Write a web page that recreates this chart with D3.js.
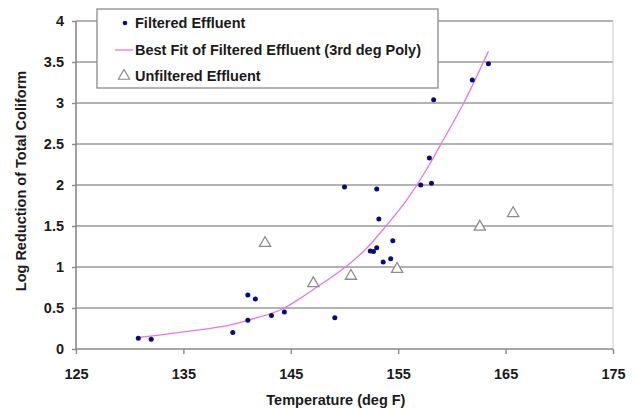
<!DOCTYPE html>
<html>
<head>
<meta charset="utf-8">
<script src="https://cdn.jsdelivr.net/npm/d3@7"></script>
<style>
  body { margin: 0; background: #fff; }
  svg text { font-family: "Liberation Sans", Arial, sans-serif; font-weight: bold; fill: #1a1a1a; }
</style>
</head>
<body>
<svg class="chart" width="636" height="409"></svg>
<script>
// Log reduction of total coliform vs temperature

// Filtered effluent (temperature, log reduction)
var filteredTemp = [130.8, 132.0, 139.6, 141.0, 141.7, 141.0, 143.2, 144.4, 149.1, 150.0,
                    152.4, 152.7, 153.0, 153.0, 153.2, 153.6, 154.3, 154.5, 157.1, 158.1,
                    157.9, 158.3, 161.9, 163.4];
var filteredLog  = [0.13, 0.12, 0.20, 0.66, 0.61, 0.35, 0.41, 0.45, 0.38, 1.975,
                    1.195, 1.19, 1.235, 1.95, 1.585, 1.06, 1.10, 1.32, 2.0, 2.02,
                    2.33, 3.04, 3.28, 3.48];

// Best fit line (3rd deg poly)
var fitTemp = [130.8, 135, 139.6, 141, 144.4, 145.9, 147.7, 150.0, 152.0, 153.8, 155.8, 157.6, 158.9, 161.1, 163.4];
var fitLog  = [0.14, 0.21, 0.30, 0.35, 0.50, 0.62, 0.78, 0.99, 1.22, 1.49, 1.82, 2.18, 2.48, 3.0, 3.63];

// Unfiltered effluent
var unfilteredTemp = [142.6, 147.1, 150.6, 154.9, 162.6, 165.7];
var unfilteredLog  = [1.29, 0.80, 0.89, 0.975, 1.49, 1.655];

var xTicks = [125, 135, 145, 155, 165, 175];
var yTicks = [0, 0.5, 1, 1.5, 2, 2.5, 3, 3.5, 4];

var legendLabels = ["Filtered Effluent", "Best Fit of Filtered Effluent (3rd deg Poly)", "Unfiltered Effluent"];

var margin = { top: 21, right: 23, left: 76, bottom: 60 };
var width = 636 - margin.left - margin.right;
var height = 409 - margin.top - margin.bottom;

var svg = d3.select(".chart");
var chart = svg.append("g")
    .attr("transform", "translate(" + margin.left + "," + margin.top + ")");

var x = d3.scaleLinear().domain([125, 175]).range([0, width]);
var y = d3.scaleLinear().domain([0, 4]).range([height, 0]);

// gridlines
chart.selectAll(".grid")
    .data(yTicks.filter(function(d) { return d > 0; }))
    .enter().append("line")
    .attr("class", "grid")
    .attr("x1", 0).attr("x2", width)
    .attr("y1", function(d) { return y(d); })
    .attr("y2", function(d) { return y(d); })
    .style("stroke", "#9a9a9a")
    .style("stroke-width", 1.6);

// right border
chart.append("line")
    .attr("x1", width).attr("x2", width)
    .attr("y1", 0).attr("y2", height)
    .style("stroke", "#cfcfcf").style("stroke-width", 1.2);

// x axis
var xAxis = d3.axisBottom(x).tickValues(xTicks).tickSize(5).tickPadding(14.5);
var gx = chart.append("g")
    .attr("class", "x axis")
    .attr("transform", "translate(0," + height + ")")
    .call(xAxis);

// y axis
var yAxis = d3.axisLeft(y).tickValues(yTicks).tickSize(4).tickPadding(8)
    .tickFormat(function(d) { return d3.format("")(d); });
var gy = chart.append("g")
    .attr("class", "y axis")
    .call(yAxis);

[gx, gy].forEach(function(g) {
    g.select(".domain").style("stroke", "#8a8a8a").style("stroke-width", 1.6);
    g.selectAll(".tick line").style("stroke", "#8a8a8a").style("stroke-width", 1.4);
    g.selectAll(".tick text")
        .style("font-size", "14.5px")
        .style("font-family", "'Liberation Sans', Arial, sans-serif")
        .style("font-weight", "bold")
        .style("fill", "#1a1a1a");
});
gx.select(".domain").attr("d", "M0,0H" + width);
gy.select(".domain").attr("d", "M0,0V" + height);

// axis titles
chart.append("text")
    .attr("x", x(149.2))
    .attr("y", height + 56)
    .style("text-anchor", "middle")
    .style("font-size", "14.5px")
    .text("Temperature (deg F)");

chart.append("text")
    .attr("transform", "rotate(-90)")
    .attr("x", -(height / 2) + 4)
    .attr("y", -50)
    .style("text-anchor", "middle")
    .style("font-size", "14.5px")
    .text("Log Reduction of Total Coliform");

// best fit line
var fitData = fitTemp.map(function(t, i) { return [t, fitLog[i]]; });
var line = d3.line()
    .x(function(d) { return x(d[0]); })
    .y(function(d) { return y(d[1]); })
    .curve(d3.curveMonotoneX);
chart.append("path")
    .datum(fitData)
    .attr("d", line)
    .style("fill", "none")
    .style("stroke", "#e07be0")
    .style("stroke-width", 1.3);

// filtered points
var filtered = filteredTemp.map(function(t, i) { return { t: t, v: filteredLog[i] }; });
chart.selectAll(".dot")
    .data(filtered)
    .enter().append("circle")
    .attr("class", "dot")
    .attr("cx", function(d) { return x(d.t); })
    .attr("cy", function(d) { return y(d.v); })
    .attr("r", 2.5)
    .style("fill", "#0a0a78");

// unfiltered triangles
var tri = d3.symbol().type(d3.symbolTriangle).size(55);
var unfiltered = unfilteredTemp.map(function(t, i) { return { t: t, v: unfilteredLog[i] }; });
chart.selectAll(".tri")
    .data(unfiltered)
    .enter().append("path")
    .attr("class", "tri")
    .attr("d", tri)
    .attr("transform", function(d) { return "translate(" + x(d.t) + "," + y(d.v) + ")"; })
    .style("fill", "#fff")
    .style("stroke", "#8c8c8c")
    .style("stroke-width", 1.3);

// legend
var legend = svg.append("g").attr("transform", "translate(97,9)");
legend.append("rect")
    .attr("width", 341).attr("height", 79)
    .style("fill", "#fff")
    .style("stroke", "#8a8a8a")
    .style("stroke-width", 1.3);

legend.append("circle")
    .attr("cx", 28).attr("cy", 14).attr("r", 2.3)
    .style("fill", "#0a0a78");
legend.append("line")
    .attr("x1", 18).attr("x2", 36).attr("y1", 41).attr("y2", 41)
    .style("stroke", "#e07be0").style("stroke-width", 1.3);
legend.append("path")
    .attr("d", tri)
    .attr("transform", "translate(27,67)")
    .style("fill", "#fff").style("stroke", "#8c8c8c").style("stroke-width", 1.2);

legend.selectAll(".ltext")
    .data(legendLabels)
    .enter().append("text")
    .attr("class", "ltext")
    .attr("x", 38)
    .attr("y", function(d, i) { return 19 + i * 26.5; })
    .style("font-size", "14.5px")
    .text(function(d) { return d; });
</script>
</body>
</html>
